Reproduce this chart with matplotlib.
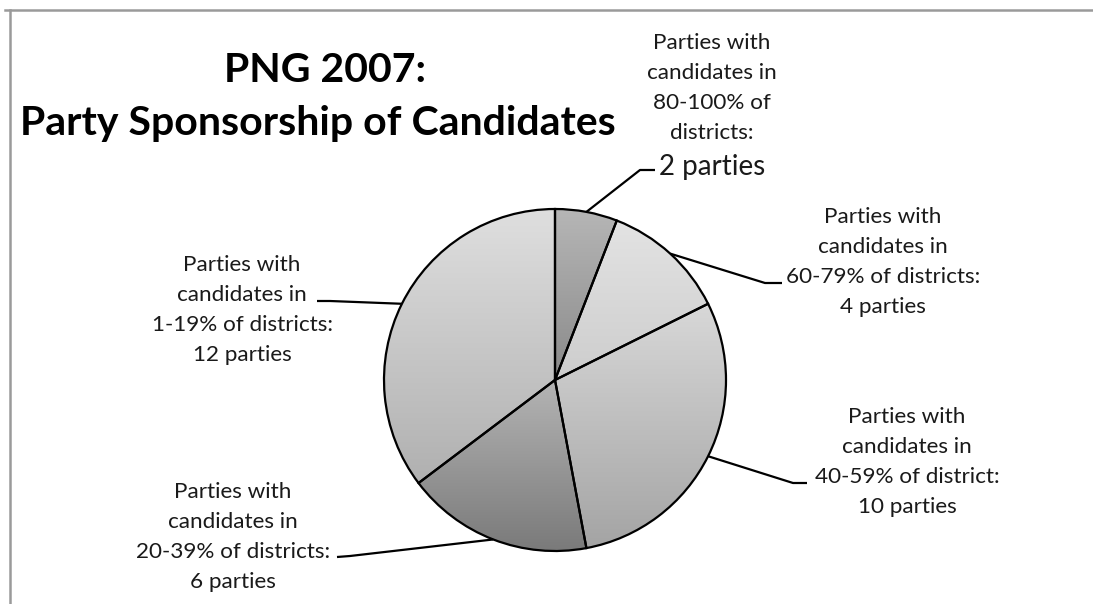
import numpy as np
import matplotlib
matplotlib.use("Agg")
import matplotlib.pyplot as plt
from matplotlib.colors import LinearSegmentedColormap

# Data: number of parties by share of districts contested
categories = ["80-100%", "60-79%", "40-59%", "20-39%", "1-19%"]
party_counts = [2, 4, 10, 6, 12]
label_lines = [
    ["Parties with", "candidates in", "80-100% of", "districts:"],
    ["Parties with", "candidates in", "60-79% of districts:", "4 parties"],
    ["Parties with", "candidates in", "40-59% of district:", "10 parties"],
    ["Parties with", "candidates in", "20-39% of districts:", "6 parties"],
    ["Parties with", "candidates in", "1-19% of districts:", "12 parties"],
]
first_count_text = "2 parties"
title_lines = ["PNG 2007:", "Party Sponsorship of Candidates"]

# Gradient fills (top colour, bottom colour) for each wedge
gradients = [
    ("#b6b6b6", "#8a8a8a"),
    ("#e3e3e3", "#cdcdcd"),
    ("#d8d8d8", "#a4a4a4"),
    ("#b4b4b4", "#7a7a7a"),
    ("#dfdfdf", "#b0b0b0"),
]

W, H = 1093, 604
fig = plt.figure(figsize=(W / 100, H / 100), dpi=100)
ax = fig.add_axes([0, 0, 1, 1])

FONT = "Lato"
TXT = "#1a1a1a"

center = (555, H - 380)
radius = 171

wedges, _ = ax.pie(party_counts, startangle=90, counterclock=False,
                   center=center, radius=radius,
                   wedgeprops=dict(edgecolor="black", linewidth=1.6))

for w, (top, bot) in zip(wedges, gradients):
    ext = w.get_path().get_extents()
    cmap = LinearSegmentedColormap.from_list("g", [bot, top])
    grad = np.linspace(0, 1, 256).reshape(-1, 1)
    im = ax.imshow(grad, cmap=cmap, origin="lower", aspect="auto",
                   extent=[ext.x0, ext.x1, ext.y0, ext.y1], zorder=1,
                   interpolation="bilinear")
    im.set_clip_path(w)
    w.set_facecolor("none")
    w.set_zorder(2)

ax.set_xlim(0, W)
ax.set_ylim(0, H)
ax.set_aspect("auto")
ax.axis("off")

# Leader lines: from wedge edge at its mid-angle to an elbow, then a short tail
elbows = [((640, 170), (655, 170)),
          ((765, 283), (782, 283)),
          ((793, 483), (807, 483)),
          ((350, 556), (337, 557)),
          ((330, 301), (317, 301))]
for w, (e1, e2) in zip(wedges, elbows):
    mid = np.deg2rad((w.theta1 + w.theta2) / 2)
    sx = center[0] + radius * np.cos(mid)
    sy = center[1] + radius * np.sin(mid)
    ax.plot([sx, e1[0], e2[0]], [sy, H - e1[1], H - e2[1]],
            color="black", lw=1.6, solid_capstyle="butt", zorder=3)

# Label blocks (centre x, first-line centre y in pixels from top)
label_pos = [(712, 43), (883, 217), (907, 417), (233, 492), (242, 265)]
for lines, (cx, y0) in zip(label_lines, label_pos):
    for i, line in enumerate(lines):
        ax.text(cx, H - (y0 + i * 30), line, ha="center", va="center",
                fontsize=16.2, family=FONT, color=TXT)
ax.text(712, H - 167, first_count_text, ha="center", va="center",
        fontsize=20, family=FONT, color=TXT)

# Title
ax.text(325, H - 70, title_lines[0], ha="center", va="center",
        fontsize=29.5, family=FONT, fontweight="bold", color="black")
ax.text(318, H - 123, title_lines[1], ha="center", va="center",
        fontsize=29.5, family=FONT, fontweight="bold", color="black")

# Chart-area frame (top and left edges)
ax.plot([5, W], [H - 10, H - 10], color="#9a9a9a", lw=1.8, zorder=0)
ax.plot([10, 10], [H - 10, 0], color="#9a9a9a", lw=1.8, zorder=0)

fig.savefig("out.png", dpi=100, facecolor="white")
